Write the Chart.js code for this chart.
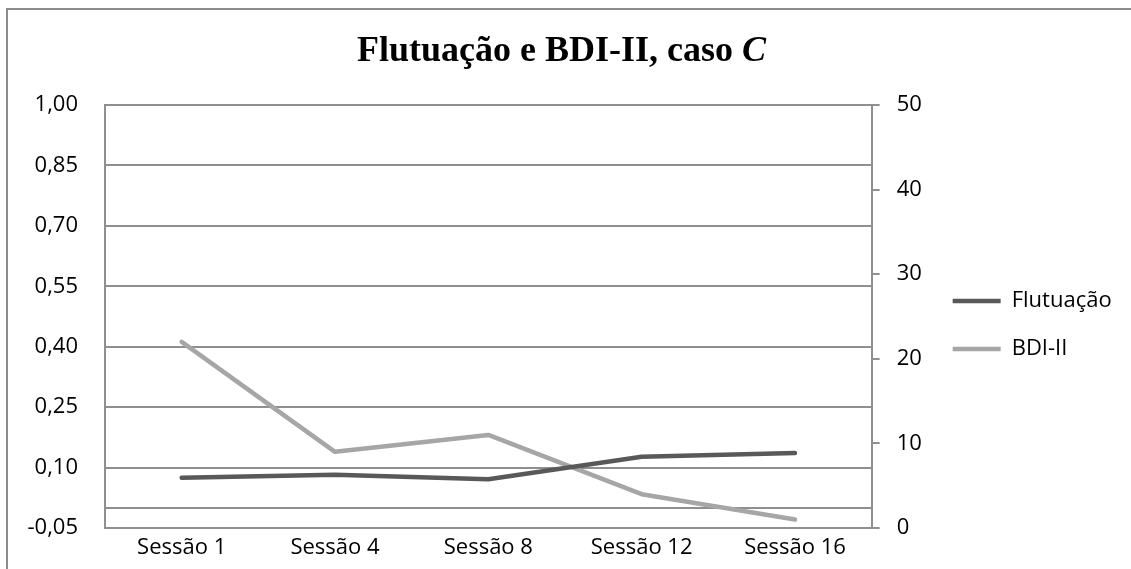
<!DOCTYPE html>
<html>
<head>
<meta charset="utf-8">
<script src="https://cdn.jsdelivr.net/npm/chart.js@4"></script>
<style>
  body { margin: 0; background: #fff; }
  #wrap { position: relative; width: 1131px; height: 569px; overflow: hidden; }
  #frame { position: absolute; left: 6px; top: 8px; width: 1200px; height: 700px;
           border-left: 2px solid #8c8c8c; border-top: 2px solid #8c8c8c; }
  #chart { position: absolute; left: 0; top: 0; }
</style>
</head>
<body>
<div id="wrap">
  <div id="frame"></div>
  <canvas id="chart" width="1131" height="569"></canvas>
</div>
<script>
// Chart data
const sessions = ['Sessão 1', 'Sessão 4', 'Sessão 8', 'Sessão 12', 'Sessão 16'];
const flutuacao = [0.075, 0.082, 0.071, 0.127, 0.136];
const bdi = [22, 9, 11, 4, 1];
const leftTicks = [-0.05, 0.10, 0.25, 0.40, 0.55, 0.70, 0.85, 1.00];
const rightTicks = [0, 10, 20, 30, 40, 50];

const gridGray = '#8f8f8f';
const labelFont = { family: 'Open Sans', size: 22 };

// Title with an italic "C" at the end, like the original
const titlePlugin = {
    id: 'mixedTitle',
    afterDraw(chart) {
        const ctx = chart.ctx;
        const part1 = 'Flutuação e BDI-II, caso ';
        const part2 = 'C';
        ctx.save();
        ctx.fillStyle = '#000';
        ctx.textBaseline = 'alphabetic';
        ctx.font = 'bold 36px "Liberation Serif"';
        const w1 = ctx.measureText(part1).width;
        ctx.font = 'italic bold 36px "Liberation Serif"';
        const w2 = ctx.measureText(part2).width;
        const x = (chart.width - (w1 + w2)) / 2 - 4;
        ctx.font = 'bold 36px "Liberation Serif"';
        ctx.fillText(part1, x, 61);
        ctx.font = 'italic bold 36px "Liberation Serif"';
        ctx.fillText(part2, x + w1, 61);
        ctx.restore();
    }
};

const ctx = document.getElementById('chart').getContext('2d');
const chart = new Chart(ctx, {
    type: 'line',
    data: {
        labels: sessions,
        datasets: [{
            label: 'Flutuação',
            data: flutuacao,
            yAxisID: 'y',
            borderColor: '#595959',
            backgroundColor: '#595959',
            borderWidth: 4.5,
            borderCapStyle: 'round',
            borderJoinStyle: 'round',
            pointRadius: 0,
            tension: 0
        }, {
            label: 'BDI-II',
            data: bdi,
            yAxisID: 'y1',
            borderColor: '#a6a6a6',
            backgroundColor: '#a6a6a6',
            borderWidth: 4.5,
            borderCapStyle: 'round',
            borderJoinStyle: 'round',
            pointRadius: 0,
            tension: 0
        }]
    },
    options: {
        responsive: false,
        animation: false,
        devicePixelRatio: 1,
        layout: { padding: { left: 0, right: 19, top: 81, bottom: 0 } },
        plugins: {
            // empty title used only as a spacer above the plot, the real title is drawn by titlePlugin
            title: { display: true, text: '', font: { size: 10, lineHeight: 1.2 }, padding: 6 },
            tooltip: { enabled: false },
            legend: {
                position: 'right',
                align: 'center',
                labels: {
                    font: labelFont,
                    color: '#000',
                    usePointStyle: true,
                    pointStyle: 'line',
                    pointStyleWidth: 48,
                    boxWidth: 48,
                    padding: 26
                }
            }
        },
        scales: {
            x: {
                offset: true,
                grid: { display: false, drawTicks: false },
                border: { display: true, color: gridGray, width: 2 },
                ticks: { font: labelFont, color: '#000', padding: 7, maxRotation: 0 },
                afterFit(scale) { scale.height = 41; }
            },
            y: {
                position: 'left',
                min: -0.05,
                max: 1.0,
                afterBuildTicks(scale) {
                    // zero line is drawn as an unlabelled gridline
                    scale.ticks = leftTicks.concat([0]).map(v => ({ value: v }));
                },
                grid: { color: gridGray, lineWidth: 2, drawTicks: false },
                border: { display: true, color: gridGray, width: 2 },
                ticks: {
                    font: labelFont,
                    color: '#000',
                    padding: 27,
                    callback: v => (v === 0 ? '' : v.toFixed(2).replace('.', ','))
                },
                afterFit(scale) { scale.width = 105; }
            },
            y1: {
                position: 'right',
                min: 0,
                max: 50,
                afterBuildTicks(scale) {
                    scale.ticks = rightTicks.map(v => ({ value: v }));
                },
                grid: { drawOnChartArea: false, drawTicks: true, tickLength: 8, color: gridGray, lineWidth: 2 },
                border: { display: true, color: gridGray, width: 2 },
                ticks: { font: labelFont, color: '#000', padding: 17 },
                afterFit(scale) { scale.width = 55; }
            }
        }
    },
    plugins: [titlePlugin]
});
</script>
</body>
</html>
